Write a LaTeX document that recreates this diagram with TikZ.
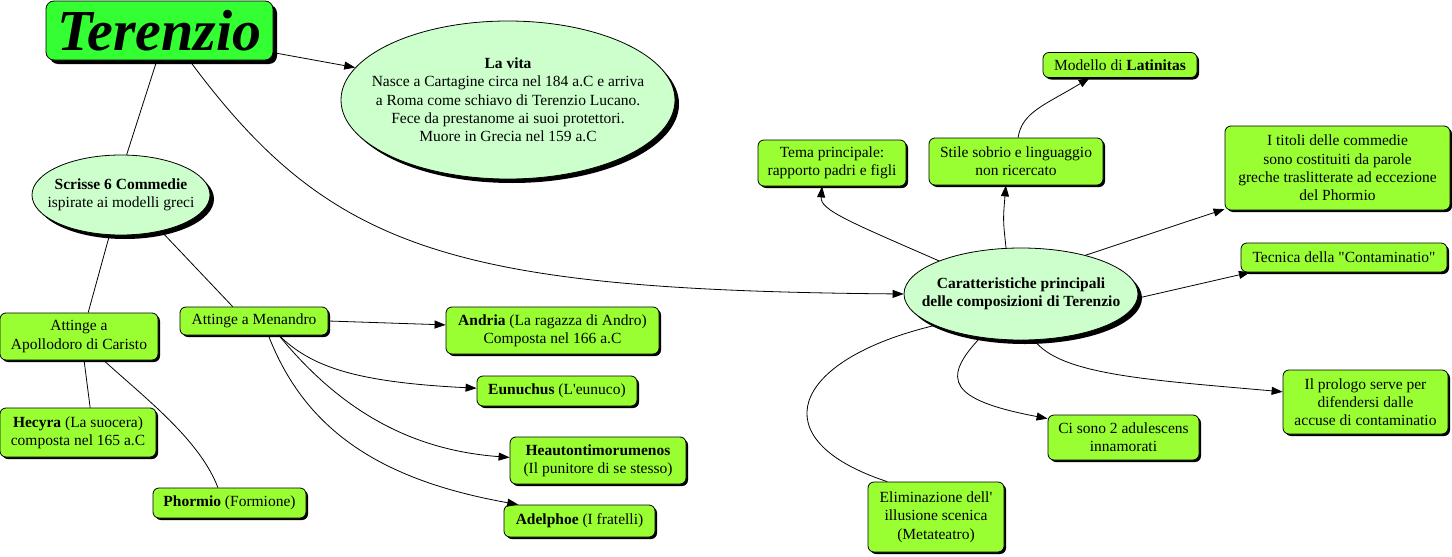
\documentclass[tikz,border=0pt]{standalone}
\usepackage{fontspec}
\setmainfont{Liberation Serif}
\usetikzlibrary{shapes,arrows.meta,shadows}
\definecolor{titlegreen}{RGB}{51,255,51}
\definecolor{leafgreen}{RGB}{153,255,51}
\definecolor{bubblegreen}{RGB}{204,255,204}

\begin{document}
\begin{tikzpicture}
[
  x=1pt, y=-1pt,
  leaf/.style={draw, rounded corners=6pt, fill=leafgreen, align=center, inner sep=2pt,
    drop shadow={shadow xshift=2pt, shadow yshift=-2pt, fill=black, opacity=1}},
  bubble/.style={draw, ellipse, fill=bubblegreen, align=center, inner ysep=0pt,
    drop shadow={shadow xshift=4pt, shadow yshift=-4pt, fill=black, opacity=1}},
  link/.style={-{Triangle[length=11pt,width=8pt]}},
  font=\fontsize{15.5}{18.3}\selectfont,
  line width=0.8pt
]
 \useasboundingbox (0,0) rectangle (1452,557);

 \node[draw, rounded corners=8pt, fill=titlegreen, minimum width=227pt, minimum height=59pt,
   drop shadow={shadow xshift=4pt, shadow yshift=-4pt, fill=black, opacity=1}]
   (terenzio) at (159.5,30.5) {\fontsize{58}{58}\selectfont\bfseries\itshape Terenzio};

 \node[bubble, inner xsep=-22pt, minimum width=334pt, minimum height=158pt] (vita) at (508,100)
   {\textbf{La vita}\\Nasce a Cartagine circa nel 184 a.C e arriva\\ a Roma come schiavo di Terenzio Lucano.\\Fece da prestanome ai suoi protettori.\\Muore in Grecia nel 159 a.C};
 \node[bubble, inner xsep=-12pt, minimum width=178pt, minimum height=80pt] (scrisse) at (121,195)
   {\textbf{Scrisse 6 Commedie}\\ispirate ai modelli greci};
 \node[bubble, inner xsep=-18pt, minimum width=234pt, minimum height=92pt] (car) at (1021,294)
   {\textbf{Caratteristiche principali}\\\textbf{delle composizioni di Terenzio}};

 % left branch
 \node[leaf, minimum width=158pt, minimum height=47pt] (apollodoro) at (79,336.5) {Attinge a\\Apollodoro di Caristo};
 \node[leaf, minimum width=156pt, minimum height=49pt] (hecyra) at (78,432.5) {\textbf{Hecyra} (La suocera)\\composta nel 165 a.C};
 \node[leaf, minimum width=153pt, minimum height=30pt] (phormio) at (229.5,503) {\textbf{Phormio} (Formione)};
 \node[leaf, minimum width=148pt, minimum height=28pt] (menandro) at (254,321) {Attinge a Menandro};
 \node[leaf, minimum width=213pt, minimum height=47pt] (andria) at (552.5,330.5) {\textbf{Andria} (La ragazza di Andro)\\Composta nel 166 a.C};
 \node[leaf, minimum width=160pt, minimum height=30pt] (eunuchus) at (557,391) {\textbf{Eunuchus} (L\textquotesingle eunuco)};
 \node[leaf, minimum width=176pt, minimum height=47pt] (heaut) at (598,460.5) {\textbf{Heautontimorumenos}\\(Il punitore di se stesso)};
 \node[leaf, minimum width=151pt, minimum height=32pt] (adelphoe) at (579.5,521) {\textbf{Adelphoe} (I fratelli)};

 % right branch
 \node[leaf, minimum width=148pt, minimum height=46pt] (tema) at (832,163) {Tema principale:\\rapporto padri e figli};
 \node[leaf, minimum width=174pt, minimum height=47pt] (stile) at (1016,161.5) {Stile sobrio e linguaggio\\non ricercato};
 \node[leaf, minimum width=154pt, minimum height=25pt] (modello) at (1120,65) {Modello di \textbf{Latinitas}};
 \node[leaf, minimum width=225pt, minimum height=84pt] (titoli) at (1337.5,168) {I titoli delle commedie\\sono costituiti da parole\\greche traslitterate ad eccezione\\del Phormio};
 \node[leaf, minimum width=206pt, minimum height=29pt] (tecnica) at (1344,257.5) {Tecnica della \textquotedbl Contaminatio\textquotedbl};
 \node[leaf, minimum width=165pt, minimum height=64pt] (prologo) at (1365.5,402) {Il prologo serve per\\difendersi dalle\\accuse di contaminatio};
 \node[leaf, minimum width=151pt, minimum height=45pt] (cisono) at (1123.5,437.5) {Ci sono 2 adulescens\\innamorati};
 \node[leaf, minimum width=136pt, minimum height=70pt] (elimin) at (936,517) {Eliminazione dell\textquotesingle\\illusione scenica\\(Metateatro)};

 \draw[link] (terenzio.-11) -- (vita.168);
 \draw (terenzio.265) -- (scrisse.82);
 \draw[link] (terenzio.-45) .. controls (330,250) and (450,290) .. (car.west);

 \draw (scrisse.-106) -- (apollodoro.69);
 \draw (scrisse.-42) -- (menandro.146);
 \draw (apollodoro.-78) -- (hecyra.64);
 \draw (apollodoro.-44) .. controls (145,398) and (200,440) .. (phormio.127);
 \draw[link] (menandro.east) -- (andria.177);
 \draw[link] (menandro.-30) .. controls (310,365) and (350,382) .. (eunuchus.178);
 \draw[link] (menandro.-30) .. controls (340,410) and (410,450) .. (heaut.178);
 \draw[link] (menandro.-45) .. controls (305,430) and (380,480) .. (adelphoe.165);

 \draw[link] (car.158) .. controls (850,222) and (820,210) .. (tema.-113);
 \draw[link] (car.108) .. controls (1003,220) .. (stile.-113);
 \draw[link] (stile.85) .. controls (1022,112) and (1045,105) .. (modello.-157);
 \draw[link] (car.31) -- (titoli.-160);
 \draw[link] (car.-2) -- (tecnica.-171);
 \draw[link] (car.-74) .. controls (1060,375) and (1150,380) .. (prologo.173);
 \draw[link] (car.-133) .. controls (940,380) and (950,400) .. (cisono.166);
 \draw (car.-160) .. controls (790,360) and (760,440) .. (elimin.144);
\end{tikzpicture}
\end{document}
